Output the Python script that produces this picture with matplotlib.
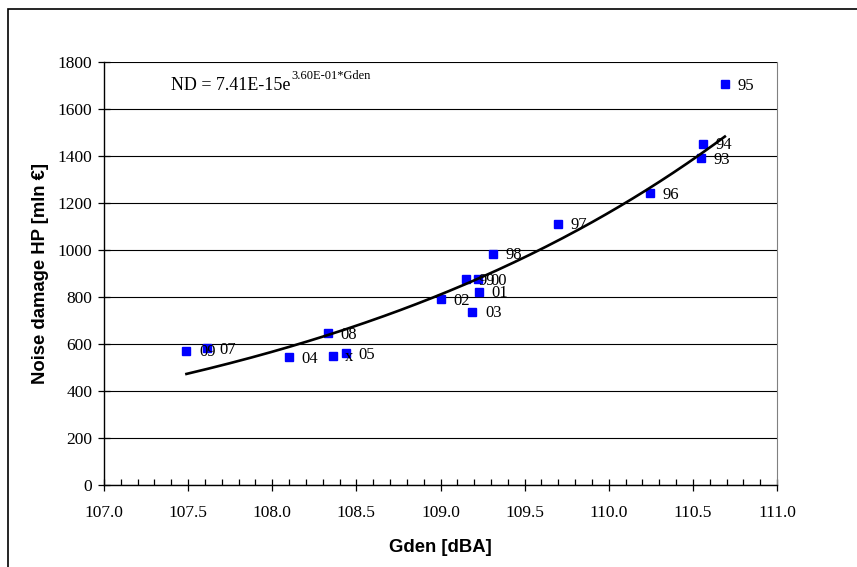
import matplotlib
matplotlib.use('Agg')
import matplotlib.pyplot as plt
from matplotlib.patches import Rectangle
from matplotlib.ticker import MultipleLocator, FormatStrFormatter
import numpy as np

# data
years = ['09', '07', '04', 'x', '05', '08', '02', '03', '01', '99', '00', '98',
         '97', '96', '93', '94', '95']
gden = [107.49, 107.61, 108.10, 108.36, 108.44, 108.33, 109.00, 109.19, 109.23,
        109.15, 109.22, 109.31, 109.70, 110.245, 110.55, 110.56, 110.69]
damage = [572, 582, 543, 549, 560, 645, 790, 737, 823, 875, 875, 983,
          1111, 1241, 1390, 1451, 1705]

serif = ['Liberation Serif', 'DejaVu Serif']
sans = ['Liberation Sans', 'DejaVu Sans']

fig = plt.figure(figsize=(8.57, 5.67), dpi=100)
ax = fig.add_axes([104/857, 1-485/567, (777-104)/857, (485-62)/567])

# chart area border
fig.patches.append(Rectangle((8/857, -0.05), 1.1, 1-9/567+0.05, transform=fig.transFigure,
                             fill=False, ec='black', lw=1.2, zorder=0))

ax.yaxis.grid(True, color='black', lw=0.8)
ax.set_axisbelow(True)

ax.plot(gden, damage, 's', color='#0000FF', ms=6, zorder=3, clip_on=False)

# exponential trendline, fitted like Excel does (linear fit on ln y)
b, ln_a = np.polyfit(gden, np.log(damage), 1)
xs = np.linspace(min(gden), max(gden), 200)
ax.plot(xs, np.exp(ln_a) * np.exp(b * xs), color='black', lw=1.9, zorder=4)

for lab, x, y in zip(years, gden, damage):
    ax.annotate(lab, (x, y), xytext=(9, -1), textcoords='offset points',
                ha='left', va='center', fontsize=12, family=serif, zorder=5)

t = ax.text(107.4, 1700, 'ND = 7.41E-15e', fontsize=13, family=serif, va='center')
ax.annotate('3.60E-01*Gden', xy=(1, 0.72), xycoords=t, xytext=(0.5, 0),
            textcoords='offset points', ha='left', va='bottom', fontsize=9, family=serif)

ax.set_xlim(107.0, 111.0)
ax.set_ylim(0, 1800)
ax.xaxis.set_major_locator(MultipleLocator(0.5))
ax.xaxis.set_minor_locator(MultipleLocator(0.1))
ax.xaxis.set_major_formatter(FormatStrFormatter('%.1f'))
ax.yaxis.set_major_locator(MultipleLocator(200))

ax.tick_params(axis='both', which='major', direction='inout', length=9, width=0.9,
               labelsize=12.5, color='black')
ax.tick_params(axis='x', which='minor', direction='in', length=4, width=0.9)
ax.tick_params(axis='x', pad=10)
ax.tick_params(axis='y', pad=4)
for lab in ax.get_xticklabels() + ax.get_yticklabels():
    lab.set_family(serif)

ax.spines['top'].set_visible(False)
ax.spines['right'].set_color('#808080')
ax.spines['left'].set_linewidth(1.0)
ax.spines['bottom'].set_linewidth(1.0)

ax.set_xlabel('Gden [dBA]', fontsize=13.3, fontweight='bold', family=sans, labelpad=13)
ax.set_ylabel('Noise damage HP [mln €]', fontsize=13.3, fontweight='bold', family=sans, labelpad=6)

fig.savefig('out.png', dpi=100)
